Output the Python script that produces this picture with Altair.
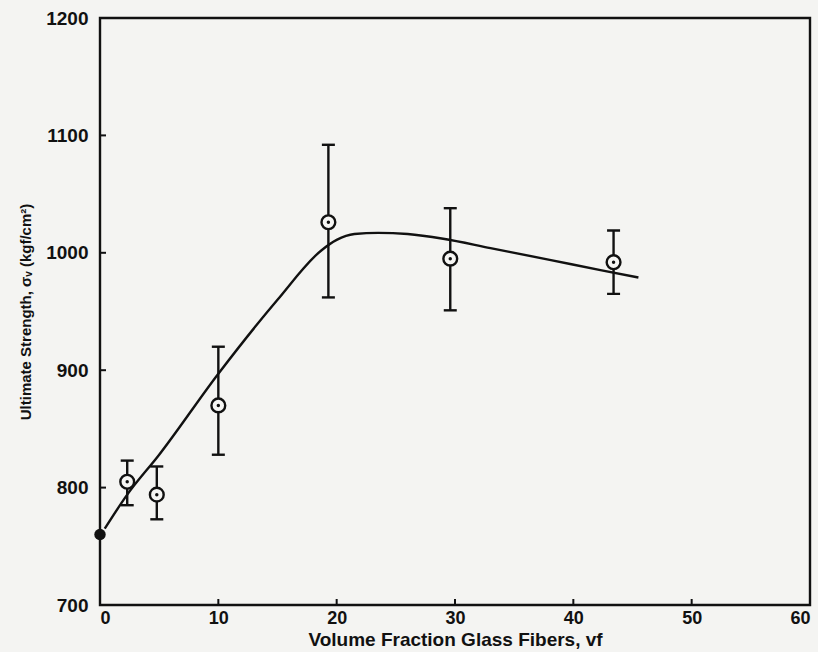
import altair as alt
import pandas as pd

# measured points (x = volume fraction %, y = strength)
pt_x = [2.3, 4.8, 10.0, 19.3, 29.6, 43.4]
pt_y = [805, 794, 870, 1026, 995, 992]
err_lo = [785, 773, 828, 962, 951, 965]
err_hi = [823, 818, 920, 1092, 1038, 1019]

# filled point at origin
zero_x = [0.0]
zero_y = [760]

# fitted curve
curve_x = [0.4, 2.3, 5.0, 10.0, 15.0, 18.7, 20.0, 21.5, 23.5, 26.0, 29.0, 33.0, 38.0, 42.4, 45.5]
curve_y = [765, 794, 828, 897, 960, 1002, 1011, 1016, 1017, 1016, 1012, 1004, 994, 985, 979]

x_ticks = [0, 10, 20, 30, 40, 50, 60]
y_ticks = [700, 800, 900, 1000, 1100, 1200]
x_inner_ticks = [10, 20, 30, 40, 50]
y_inner_ticks = [800, 900, 1000, 1100]

pts = pd.DataFrame({"x": pt_x, "y": pt_y, "lo": err_lo, "hi": err_hi})
zero = pd.DataFrame({"x": zero_x, "y": zero_y})
curve = pd.DataFrame({"x": curve_x, "y": curve_y})
xt = pd.DataFrame({"x": x_inner_ticks})
yt = pd.DataFrame({"y": y_inner_ticks})

W, H = 710, 587
FONT = "Liberation Sans"

xs = alt.Scale(domain=[0, 60], nice=False, zero=False)
ys = alt.Scale(domain=[700, 1200], nice=False, zero=False)

xenc = alt.X("x:Q", scale=xs,
             axis=alt.Axis(values=x_ticks, ticks=False, domain=False, grid=False, format="d",
                           labelFontSize=18, labelFontWeight="bold", labelFont=FONT,
                           labelColor="#111", labelPadding=4, labelFlush=True,
                           title="Volume Fraction Glass Fibers, vf", titleFontSize=19,
                           titleFont=FONT, titleFontWeight="bold", titleColor="#111",
                           titlePadding=3))
yenc = alt.Y("y:Q", scale=ys,
             axis=alt.Axis(values=y_ticks, ticks=False, domain=False, grid=False, format="d",
                           labelFontSize=19, labelFontWeight="bold", labelFont=FONT,
                           labelColor="#111", labelPadding=12, labelFlush=False,
                           title="Ultimate Strength, σᵥ (kgf/cm²)", titleFontSize=15,
                           titleFont=FONT, titleFontWeight="bold", titleColor="#111",
                           titlePadding=12))

line = alt.Chart(curve).mark_line(color="#111", strokeWidth=2.4, interpolate="monotone").encode(
    x=xenc, y=yenc)

bars = alt.Chart(pts).mark_rule(color="#111", strokeWidth=2.4).encode(
    x=alt.X("x:Q", scale=xs), y=alt.Y("lo:Q", scale=ys), y2="hi:Q")
cap_lo = alt.Chart(pts).mark_tick(color="#111", thickness=2.4, size=13, orient="horizontal", opacity=1).encode(
    x=alt.X("x:Q", scale=xs), y=alt.Y("lo:Q", scale=ys))
cap_hi = alt.Chart(pts).mark_tick(color="#111", thickness=2.4, size=13, orient="horizontal", opacity=1).encode(
    x=alt.X("x:Q", scale=xs), y=alt.Y("hi:Q", scale=ys))

ring = alt.Chart(pts).mark_point(shape="circle", size=190, filled=False, fill="#f6f6f4",
                                 fillOpacity=1, stroke="#111", strokeWidth=2.4, opacity=1).encode(
    x=alt.X("x:Q", scale=xs), y=alt.Y("y:Q", scale=ys))
dot = alt.Chart(pts).mark_point(shape="circle", size=12, filled=True, color="#111", opacity=1).encode(
    x=alt.X("x:Q", scale=xs), y=alt.Y("y:Q", scale=ys))

zdot = alt.Chart(zero).mark_point(shape="circle", size=130, filled=True, color="#111", opacity=1).encode(
    x=alt.X("x:Q", scale=xs), y=alt.Y("y:Q", scale=ys))

xtick = alt.Chart(xt).mark_rule(color="#111", strokeWidth=2).encode(
    x=alt.X("x:Q", scale=xs), y=alt.value(H), y2=alt.value(H - 6))
ytick = alt.Chart(yt).mark_rule(color="#111", strokeWidth=2).encode(
    y=alt.Y("y:Q", scale=ys), x=alt.value(0), x2=alt.value(6))

chart = alt.layer(line, bars, cap_lo, cap_hi, ring, dot, zdot, xtick, ytick).properties(
    width=W, height=H,
    autosize=alt.AutoSizeParams(type="none"),
    padding={"left": 100, "top": 18, "right": 8, "bottom": 47},
    background="#f4f4f2",
).configure_view(stroke="#111", strokeWidth=2.4)

chart.save("out.html", embed_options={"renderer": "svg", "actions": False})
